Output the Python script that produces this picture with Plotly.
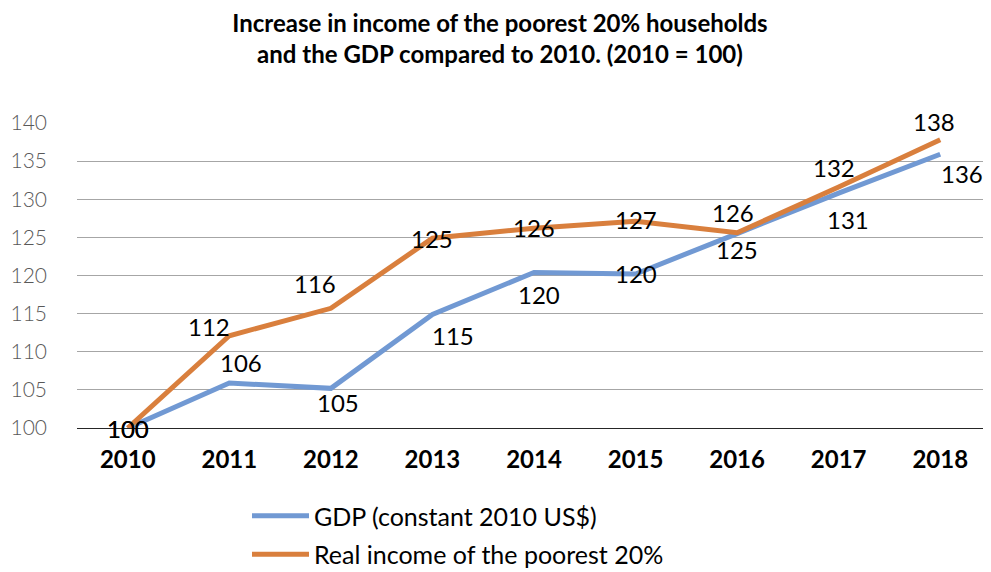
import plotly.graph_objects as go

years = ["2010", "2011", "2012", "2013", "2014", "2015", "2016", "2017", "2018"]
gdp = [100, 105.9, 105.2, 114.9, 120.4, 120.2, 125.5, 130.8, 135.9]
income = [100, 112.1, 115.7, 124.9, 126.2, 127.1, 125.6, 131.6, 137.8]
gdp_labels = ["100", "106", "105", "115", "120", "120", "125", "131", "136"]
income_labels = ["100", "112", "116", "125", "126", "127", "126", "132", "138"]

# label offsets in px (placement only)
gdp_shift = [(0, 0), (12, 21), (7, -14), (21, -21), (5, -22), (0, 0), (0, -16), (9, -26), (22, -19)]
income_shift = [(0, 0), (-20, 9), (-16, 25), (0, 0), (0, 1), (0, 2), (-4, 20), (-5, 20), (-6, 18)]

BLUE = "#7199d3"
ORANGE = "#d97f3d"


def main():
    fig = go.Figure()
    fig.add_trace(go.Scatter(
        x=years, y=gdp, mode="lines", name="GDP (constant 2010 US$)",
        line=dict(color=BLUE, width=5), legendgroup="gdp",
    ))
    fig.add_trace(go.Scatter(
        x=years, y=income, mode="lines", name="Real income of the poorest 20%",
        line=dict(color=ORANGE, width=5), legendgroup="income",
    ))

    for vals, labels, shifts in ((gdp, gdp_labels, gdp_shift), (income, income_labels, income_shift)):
        for i, (y, t, (dx, dy)) in enumerate(zip(vals, labels, shifts)):
            fig.add_annotation(
                x=i, y=y, text=t, showarrow=False,
                xshift=dx, yshift=dy,
                font=dict(family="Lato", size=24, color="#000000"),
            )

    # page body adds an 8px margin, so the figure is 8px smaller
    fig.update_layout(
        width=983, height=564,
        margin=dict(l=69, r=0, t=115, b=144),
        plot_bgcolor="white", paper_bgcolor="white",
        font=dict(family="Lato"),
        title=dict(
            text="<b>Increase in income of the poorest 20% households<br>"
                 "and the GDP compared to 2010. (2010 = 100)</b>",
            x=492 / 983, xanchor="center", y=0.957, yanchor="top",
            font=dict(family="Lato", size=24, color="#000000"),
        ),
        xaxis=dict(
            type="category",
            range=[-0.5, 8.5], showgrid=False, showline=True,
            linecolor="#262626", linewidth=1,
            tickfont=dict(family="Lato", size=24, color="#000000", weight="bold"),
            ticks="", ticklabelstandoff=10,
        ),
        yaxis=dict(
            range=[100, 140], dtick=5, showgrid=True,
            gridcolor="#a6a6a6", gridwidth=1, zeroline=False,
            tickfont=dict(family="Lato", size=21, color="#595959", weight=300),
            ticks="", ticklabelstandoff=29,
        ),
        legend=dict(
            x=(239 - 69) / 914, xanchor="left",
            yref="container", y=0.14, yanchor="top",
            font=dict(family="Lato", size=25, color="#000000"),
            tracegroupgap=3, itemwidth=57,
        ),
        showlegend=True,
    )
    fig.write_html("out.html")


if __name__ == "__main__":
    main()
